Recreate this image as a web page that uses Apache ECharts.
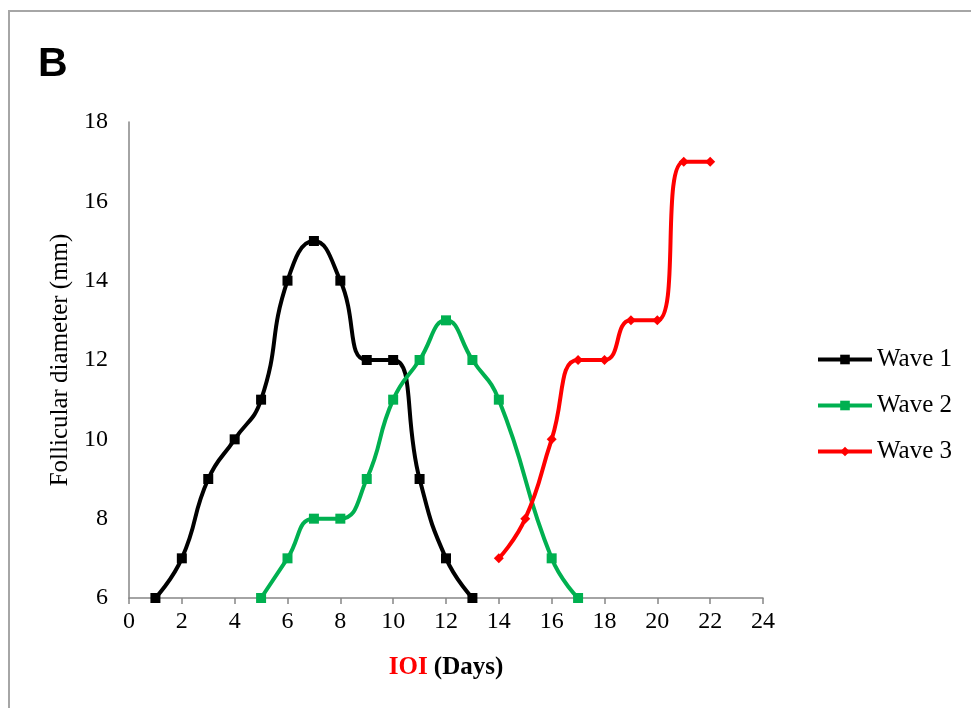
<!DOCTYPE html>
<html><head><meta charset="utf-8">
<script src="https://cdn.jsdelivr.net/npm/echarts@6/dist/echarts.min.js"></script>
<style>html,body{margin:0;padding:0;background:#fff}#c{width:971px;height:708px}</style>
</head><body><div id="c"></div>
<script>
const xTicks = [0,2,4,6,8,10,12,14,16,18,20,22,24];
const wave1 = [[1,6],[2,7],[3,9],[4,10],[5,11],[6,14],[7,15],[8,14],[9,12],[10,12],[11,9],[12,7],[13,6]];
const wave2 = [[5,6],[6,7],[7,8],[8,8],[9,9],[10,11],[11,12],[12,13],[13,12],[14,11],[16,7],[17,6]];
const wave3 = [[14,7],[15,8],[16,10],[17,12],[18,12],[19,13],[20,13],[21,17],[22,17]];
const seriesNames = ['Wave 1','Wave 2','Wave 3'];
const colors = ['#000000','#00B050','#FF0000'];

const serif = '"Liberation Serif","Times New Roman",serif';
const chart = echarts.init(document.getElementById('c'));
const mk = (name, data, color, symbol, size) => ({
  name, type:'line', data, smooth:0.5, symbol, symbolSize:size, showSymbol:true,
  lineStyle:{color, width:4}, itemStyle:{color}, emphasis:{disabled:true}
});
chart.setOption({
  animation:false,
  graphic:[
    {type:'rect', shape:{x:9,y:11,width:1200,height:1200}, style:{fill:'none',stroke:'#a6a6a6',lineWidth:2}},
    {type:'text', left:38, top:44, style:{text:'B', font:'bold 41px "Liberation Sans",Arial,sans-serif', fill:'#000'}}
  ],
  grid:{left:129, right:208, top:122, bottom:110, containLabel:false},
  legend:{
    orient:'vertical', left:811, top:342, itemWidth:54, itemHeight:12, itemGap:21,
    lineStyle:{width:4},
    textStyle:{fontFamily:serif, fontSize:25, color:'#000'},
    data:seriesNames
  },
  xAxis:{
    type:'value', min:0, max:24, interval:2,
    name:'{r|IOI}{b| (Days)}', nameLocation:'middle', nameGap:57,
    nameTextStyle:{rich:{r:{color:'#FF0000',fontWeight:'bold',fontFamily:serif,fontSize:25},b:{color:'#000',fontWeight:'bold',fontFamily:serif,fontSize:25}}},
    axisLine:{show:true,lineStyle:{color:'#868686',width:1.5}},
    axisTick:{show:true,length:6,lineStyle:{color:'#868686',width:1.5}},
    axisLabel:{fontFamily:serif,fontSize:24,color:'#000',margin:12,formatter:v=>xTicks.includes(v)?String(v):''},
    splitLine:{show:false}
  },
  yAxis:{
    type:'value', min:6, max:18, interval:2,
    name:'Follicular diameter (mm)', nameLocation:'middle', nameGap:56,
    nameTextStyle:{fontFamily:serif,fontSize:25,color:'#000'},
    axisLine:{show:true,lineStyle:{color:'#868686',width:1.5}},
    axisTick:{show:false},
    axisLabel:{fontFamily:serif,fontSize:24,color:'#000',margin:21},
    splitLine:{show:false}
  },
  series:[
    mk(seriesNames[0], wave1, colors[0], 'rect', 10),
    mk(seriesNames[1], wave2, colors[1], 'rect', 10),
    mk(seriesNames[2], wave3, colors[2], 'diamond', 10)
  ]
});
</script></body></html>
